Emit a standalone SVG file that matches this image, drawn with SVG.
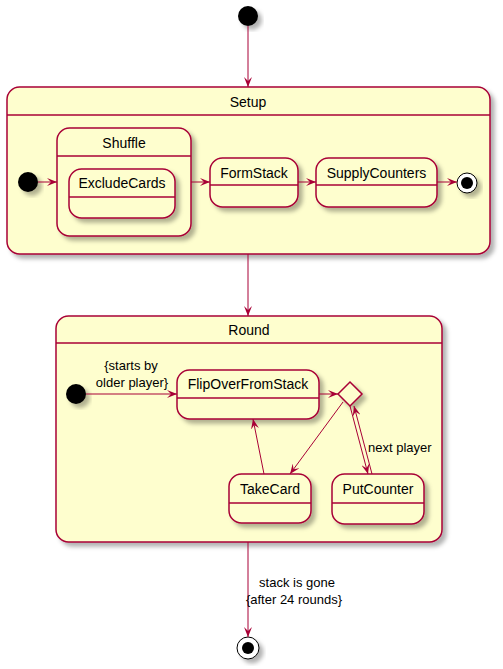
<svg xmlns="http://www.w3.org/2000/svg" width="503" height="669" viewBox="0 0 503 669">
<defs>
<filter id="sh" x="-20%" y="-20%" width="150%" height="150%">
<feDropShadow dx="4" dy="4" stdDeviation="2" flood-color="#000" flood-opacity="0.3"/>
</filter>
<marker id="ah" viewBox="0 0 10 8" refX="10" refY="4" markerWidth="10" markerHeight="8" markerUnits="userSpaceOnUse" orient="auto">
<path d="M0,0 L10,4 L0,8 L4,4 Z" fill="#A80036"/>
</marker>
</defs>
<style>
.st{fill:#FEFECE;stroke:#A80036;stroke-width:1.5;filter:url(#sh)}
.ln{stroke:#A80036;stroke-width:1.5;fill:none}
.cn{stroke:#A80036;stroke-width:1;fill:none;marker-end:url(#ah)}
.nm{font-family:"Liberation Sans",Arial,sans-serif;font-size:14px;fill:#000;text-anchor:middle}
.lb{font-family:"Liberation Sans",Arial,sans-serif;font-size:13px;fill:#000}
.ini{fill:#000;filter:url(#sh)}
.fo{fill:#fff;stroke:#000;stroke-width:1;filter:url(#sh)}
</style>

<g id="start">
<circle class="ini" cx="248" cy="16" r="10"/>
</g>

<g id="Setup">
<rect class="st" x="7" y="87" width="483" height="167" rx="12.5"/>
<line class="ln" x1="7" y1="115" x2="490" y2="115"/>
<text class="nm" x="248" y="107">Setup</text>
</g>
<g id="Setup_start">
<circle class="ini" cx="28" cy="182" r="10"/>
</g>
<g id="Shuffle">
<rect class="st" x="57" y="128" width="134" height="108" rx="12.5"/>
<line class="ln" x1="57" y1="156" x2="191" y2="156"/>
<text class="nm" x="124" y="148">Shuffle</text>
</g>
<g id="ExcludeCards">
<rect class="st" x="69" y="169" width="106" height="49" rx="12.5"/>
<line class="ln" x1="69" y1="197" x2="175" y2="197"/>
<text class="nm" x="122" y="188">ExcludeCards</text>
</g>
<g id="FormStack">
<rect class="st" x="210" y="158" width="88" height="49" rx="12.5"/>
<line class="ln" x1="210" y1="185" x2="298" y2="185"/>
<text class="nm" x="254" y="177.5">FormStack</text>
</g>
<g id="SupplyCounters">
<rect class="st" x="316" y="158" width="121" height="49" rx="12.5"/>
<line class="ln" x1="316" y1="185" x2="437" y2="185"/>
<text class="nm" x="376.5" y="177.5">SupplyCounters</text>
</g>
<g id="Setup_end">
<circle class="fo" cx="467" cy="183" r="10"/>
<circle cx="467" cy="183" r="6" fill="#000"/>
</g>

<g id="Round">
<rect class="st" x="56" y="316" width="386" height="226" rx="12.5"/>
<line class="ln" x1="56" y1="343" x2="442" y2="343"/>
<text class="nm" x="249" y="335">Round</text>
</g>
<g id="Round_start">
<circle class="ini" cx="76" cy="394" r="10"/>
</g>
<g id="FlipOverFromStack">
<rect class="st" x="177" y="370" width="142" height="49" rx="12.5"/>
<line class="ln" x1="177" y1="398" x2="319" y2="398"/>
<text class="nm" x="248" y="388.5">FlipOverFromStack</text>
</g>
<g id="choice">
<polygon class="st" points="350,382 362,394 350,406 338,394"/>
</g>
<g id="TakeCard">
<rect class="st" x="229" y="474" width="82" height="49" rx="12.5"/>
<line class="ln" x1="229" y1="503" x2="311" y2="503"/>
<text class="nm" x="270" y="493.5">TakeCard</text>
</g>
<g id="PutCounter">
<rect class="st" x="332" y="474" width="92" height="50" rx="12.5"/>
<line class="ln" x1="332" y1="503" x2="424" y2="503"/>
<text class="nm" x="378" y="494">PutCounter</text>
</g>

<g id="end">
<circle class="fo" cx="248" cy="648" r="11"/>
<circle cx="248" cy="648" r="6" fill="#000"/>
</g>

<g id="connectors">
<line class="cn" x1="248" y1="26" x2="248" y2="87"/>
<line class="cn" x1="38" y1="182" x2="57" y2="182"/>
<line class="cn" x1="191" y1="182" x2="210" y2="182"/>
<line class="cn" x1="298" y1="182" x2="316" y2="182"/>
<line class="cn" x1="437" y1="182" x2="457" y2="182"/>
<line class="cn" x1="248" y1="254" x2="248" y2="316"/>
<line class="cn" x1="86" y1="394" x2="177" y2="394"/>
<text class="lb" x="131" y="370" text-anchor="middle">{starts by</text>
<text class="lb" x="132" y="387" text-anchor="middle">older player}</text>
<line class="cn" x1="319" y1="394" x2="338" y2="394"/>
<line class="cn" x1="343" y1="402" x2="290" y2="474"/>
<line class="cn" x1="264" y1="474" x2="253" y2="419"/>
<line class="cn" x1="350" y1="406" x2="368" y2="474"/>
<line class="cn" x1="372" y1="474" x2="354" y2="406"/>
<text class="lb" x="368" y="452">next player</text>
<line class="cn" x1="248" y1="542" x2="248" y2="637"/>
<text class="lb" x="297" y="587" text-anchor="middle">stack is gone</text>
<text class="lb" x="294" y="604" text-anchor="middle">{after 24 rounds}</text>
</g>
</svg>
